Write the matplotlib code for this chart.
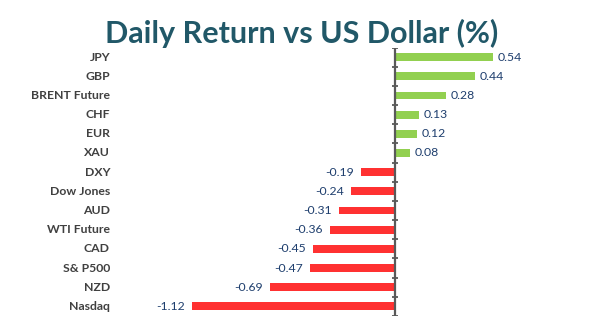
import matplotlib
matplotlib.use("Agg")
import matplotlib.pyplot as plt
from matplotlib.transforms import blended_transform_factory

# data, top to bottom as drawn
labels = ["JPY", "GBP", "BRENT Future", "CHF", "EUR", "XAU", "DXY",
          "Dow Jones", "AUD", "WTI Future", "CAD", "S& P500", "NZD", "Nasdaq"]
values = [0.54, 0.44, 0.28, 0.13, 0.12, 0.08, -0.19,
          -0.24, -0.31, -0.36, -0.45, -0.47, -0.69, -1.12]

W, H = 603, 332
fig = plt.figure(figsize=(W / 100, H / 100), dpi=100)

# axes placed so zero sits at x~395px, rows from y~48 to y~316
xmin, xmax = -1.3, 0.75
pxu = 181.5
left = 395 - (-xmin) * pxu
width = (xmax - xmin) * pxu
top, bottom = 47.5, 316
ax = fig.add_axes([left / W, 1 - bottom / H, width / W, (bottom - top) / H])

n = len(labels)
ypos = list(range(n))
colors = ["#92D050" if v >= 0 else "#FF3131" for v in values]
ax.barh(ypos, values, height=0.41, color=colors, zorder=2)
ax.set_xlim(xmin, xmax)
ax.set_ylim(n - 0.5, -0.5)

# axis styling: only the zero line with crossing ticks at row boundaries
for s in ["top", "right", "bottom", "left"]:
    ax.spines[s].set_visible(False)
ax.axvline(0, color="#595959", lw=1.6, zorder=3)
ax.set_xticks([])
ax.set_yticks([])
for b in [i - 0.5 for i in range(n + 1)]:
    ax.plot([-2.8 / pxu, 2.8 / pxu], [b, b], color="#595959", lw=1.3,
            zorder=3, solid_capstyle="butt")

# value labels
for y, v in zip(ypos, values):
    if v >= 0:
        ax.text(v + 5 / pxu, y, f"{v:.2f}", va="center", ha="left",
                fontsize=8.8, color="#1F3F6E", family="Lato")
    else:
        ax.text(v - 7 / pxu, y, f"{v:.2f}", va="center", ha="right",
                fontsize=8.8, color="#1F3F6E", family="Lato")

# category labels at the far left
tr = blended_transform_factory(fig.transFigure, ax.transData)
for y, lab in zip(ypos, labels):
    ax.text(110 / W, y, lab, transform=tr, ha="right", va="center",
            fontsize=8.8, fontweight="bold", color="#404040", family="Lato")

fig.text(0.5, 1 - 33 / H, "Daily Return vs US Dollar (%)", ha="center",
         va="center", fontsize=22, fontweight="bold", color="#215868",
         family="Lato")

fig.savefig("out.png", dpi=100)
